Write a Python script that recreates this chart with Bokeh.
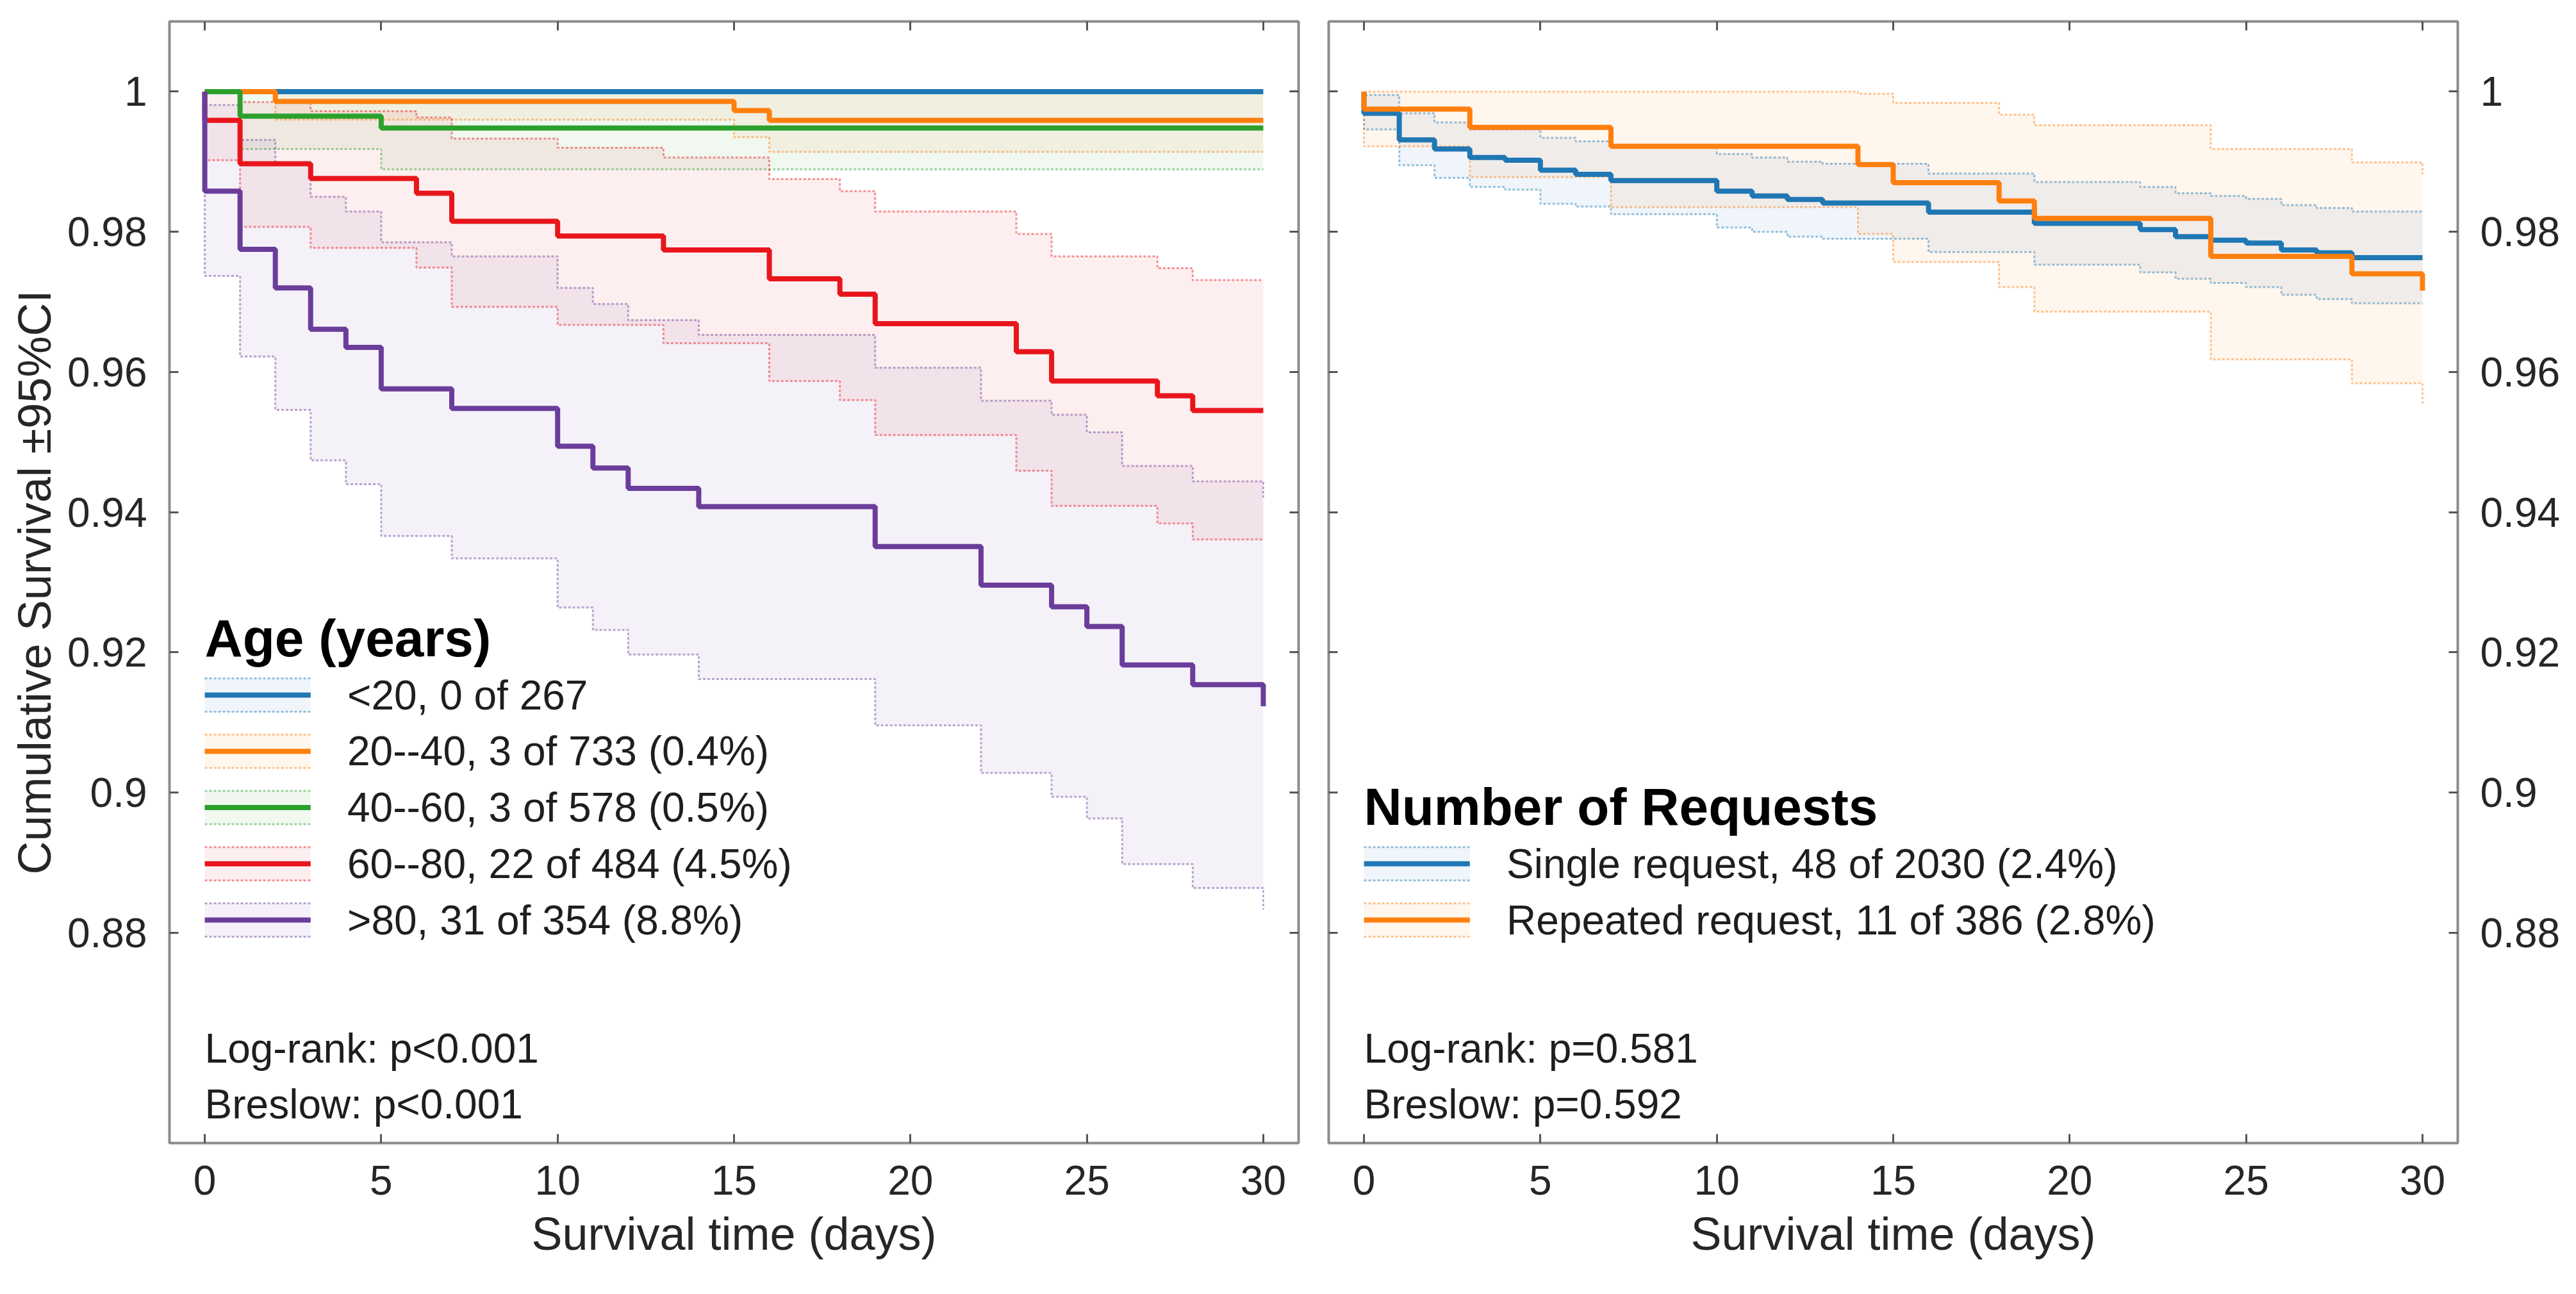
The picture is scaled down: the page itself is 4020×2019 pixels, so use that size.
from bokeh.plotting import figure
from bokeh.layouts import row
from bokeh.models import LinearAxis, FixedTicker, CustomJSTickFormatter, Range1d, Label
from bokeh.embed import file_html
from bokeh.resources import INLINE

# ---------------- data ----------------
X_TICKS = [0, 5, 10, 15, 20, 25, 30]
Y_TICKS = [0.88, 0.90, 0.92, 0.94, 0.96, 0.98, 1.00]

age_title = "Age (years)"
age_labels = ["<20, 0 of 267", "20--40, 3 of 733 (0.4%)", "40--60, 3 of 578 (0.5%)",
              "60--80, 22 of 484 (4.5%)", ">80, 31 of 354 (8.8%)"]
age_stats = ["Log-rank: p<0.001", "Breslow:  p<0.001"]

# <20
lt20_t = [0, 30]
lt20_s = [1.0, 1.0]
lt20_lo = [1.0, 1.0]
lt20_hi = [1.0, 1.0]
# 20--40
a2040_t = [0, 2, 15, 16, 30]
a2040_s = [1.0, 0.9986, 0.9973, 0.9959, 0.9959]
a2040_lo = [1.0, 0.9960, 0.9935, 0.9914, 0.9914]
a2040_hi = [1.0, 1.0, 1.0, 1.0, 1.0]
# 40--60
a4060_t = [0, 1, 5, 30]
a4060_s = [1.0, 0.9965, 0.9948, 0.9948]
a4060_lo = [1.0, 0.9918, 0.9889, 0.9889]
a4060_hi = [1.0, 1.0, 1.0, 1.0]
# 60--80
a6080_t = [0, 0, 1, 3, 6, 7, 10, 13, 16, 18, 19, 23, 24, 27, 28, 30]
a6080_s = [1.0, 0.9959, 0.9897, 0.9876, 0.9855, 0.9815, 0.9794, 0.9774, 0.9733, 0.9711,
           0.9669, 0.9629, 0.9587, 0.9566, 0.9545, 0.9545]
a6080_hi = [1.0, 1.0, 0.9985, 0.9972, 0.9963, 0.9933, 0.9920, 0.9906, 0.9875, 0.9858,
            0.9829, 0.9797, 0.9765, 0.9748, 0.9731, 0.9731]
a6080_lo = [1.0, 0.9902, 0.9807, 0.9777, 0.9749, 0.9693, 0.9667, 0.9641, 0.9587, 0.9560,
            0.9510, 0.9459, 0.9409, 0.9384, 0.9361, 0.9361]
# >80
a80_t = [0, 0, 1, 2, 3, 4, 5, 7, 10, 11, 12, 14, 19, 22, 24, 25, 26, 28, 30]
a80_s = [1.0, 0.9858, 0.9775, 0.9720, 0.9661, 0.9635, 0.9576, 0.9548, 0.9494, 0.9463,
         0.9434, 0.9408, 0.9351, 0.9296, 0.9265, 0.9237, 0.9182, 0.9154, 0.9123]
a80_hi = [1.0, 0.9981, 0.9931, 0.9898, 0.9850, 0.9829, 0.9785, 0.9765, 0.9720, 0.9697,
          0.9674, 0.9653, 0.9606, 0.9559, 0.9539, 0.9514, 0.9466, 0.9444, 0.9421]
a80_lo = [1.0, 0.9737, 0.9622, 0.9546, 0.9474, 0.9440, 0.9366, 0.9334, 0.9264, 0.9232,
          0.9197, 0.9162, 0.9096, 0.9028, 0.8994, 0.8963, 0.8898, 0.8864, 0.8833]

req_title = "Number of Requests"
req_labels = ["Single request, 48 of 2030 (2.4%)", "Repeated request, 11 of 386 (2.8%)"]
req_stats = ["Log-rank: p=0.581", "Breslow:  p=0.592"]

single_t = [0, 0, 1, 2, 3, 4, 5, 6, 7, 10, 11, 12, 13, 16, 19, 22, 23, 24, 25, 26, 27, 28, 30]
single_s = [1.0, 0.9969, 0.9931, 0.9918, 0.9906, 0.9902, 0.9888, 0.9882, 0.9873, 0.9858,
            0.9851, 0.9846, 0.9841, 0.9828, 0.9812, 0.9803, 0.9793, 0.9788, 0.9784, 0.9774,
            0.9770, 0.9763, 0.9763]
single_hi = [1.0, 0.9995, 0.9969, 0.9956, 0.9946, 0.9946, 0.9934, 0.9929, 0.9921, 0.9911,
             0.9906, 0.9900, 0.9897, 0.9883, 0.9871, 0.9864, 0.9855, 0.9851, 0.9847, 0.9838,
             0.9834, 0.9829, 0.9829]
single_lo = [1.0, 0.9946, 0.9895, 0.9877, 0.9864, 0.9860, 0.9840, 0.9836, 0.9825, 0.9806,
             0.9800, 0.9793, 0.9790, 0.9771, 0.9753, 0.9742, 0.9733, 0.9727, 0.9721, 0.9710,
             0.9704, 0.9698, 0.9698]

repeat_t = [0, 0, 3, 7, 14, 15, 18, 19, 24, 28, 30]
repeat_s = [1.0, 0.9975, 0.9949, 0.9922, 0.9896, 0.9870, 0.9844, 0.9819, 0.9765, 0.9740, 0.9716]
repeat_hi = [1.0, 1.0, 1.0, 1.0, 0.9997, 0.9984, 0.9967, 0.9952, 0.9918, 0.9899, 0.9882]
repeat_lo = [1.0, 0.9922, 0.9878, 0.9835, 0.9797, 0.9757, 0.9721, 0.9686, 0.9618, 0.9584, 0.9555]

# ---------------- style ----------------
BLUE, ORANGE, GREEN, RED, PURPLE = "#1f77b4", "#ff7f0e", "#2ca02c", "#e8161c", "#6a3d9a"
FONT = "Liberation Sans"
TXT = "#1e1e1e"
X_MIN, X_MAX = -1.0, 31.0
Y_MIN, Y_MAX = 0.85, 1.01
FW, FH = 1762, 1750

age_groups = [
    (lt20_t, lt20_s, lt20_lo, lt20_hi, BLUE),
    (a2040_t, a2040_s, a2040_lo, a2040_hi, ORANGE),
    (a4060_t, a4060_s, a4060_lo, a4060_hi, GREEN),
    (a6080_t, a6080_s, a6080_lo, a6080_hi, RED),
    (a80_t, a80_s, a80_lo, a80_hi, PURPLE),
]
req_groups = [
    (single_t, single_s, single_lo, single_hi, BLUE),
    (repeat_t, repeat_s, repeat_lo, repeat_hi, ORANGE),
]


def ydat(px_from_top):
    return Y_MAX - px_from_top / FH * (Y_MAX - Y_MIN)


def style_axis(ax, ticks, labels, fmt=None):
    ax.ticker = FixedTicker(ticks=ticks)
    if fmt is not None:
        ax.formatter = fmt
    ax.major_tick_in = 14
    ax.major_tick_out = 0
    ax.minor_tick_in = 0
    ax.minor_tick_out = 0
    ax.major_tick_line_color = "#555555"
    ax.major_tick_line_width = 3
    ax.axis_line_color = None
    ax.major_label_text_font = FONT
    if labels:
        ax.major_label_text_color = "#262626"
        ax.major_label_text_font_size = "64px"
        ax.major_label_standoff = 35
    else:
        # tick marks only: labels are not painted at all
        ax.major_label_text_color = None
        ax.major_label_text_font_size = "1px"
        ax.major_label_standoff = 0


def yfmt():
    return CustomJSTickFormatter(code="return String(parseFloat(tick.toFixed(3)));")


def make_panel(groups, ylabel_side, bl, br):
    p = figure(frame_width=FW, frame_height=FH,
               x_range=Range1d(X_MIN, X_MAX), y_range=Range1d(Y_MIN, Y_MAX),
               output_backend="svg", toolbar_location=None,
               x_axis_location="below", y_axis_location=ylabel_side,
               min_border_left=bl, min_border_right=br,
               min_border_top=33, min_border_bottom=210)
    p.grid.visible = False
    p.outline_line_color = "#8c8c8c"
    p.outline_line_width = 4
    p.background_fill_color = "white"
    p.border_fill_color = "white"

    style_axis(p.xaxis[0], X_TICKS, True)
    p.xaxis[0].axis_label = "Survival time (days)"
    p.xaxis[0].axis_label_text_font = FONT
    p.xaxis[0].axis_label_text_font_size = "72px"
    p.xaxis[0].axis_label_text_font_style = "normal"
    p.xaxis[0].axis_label_text_color = "#262626"
    p.xaxis[0].axis_label_standoff = 18

    style_axis(p.yaxis[0], Y_TICKS, True, yfmt())

    top = LinearAxis()
    style_axis(top, X_TICKS, False)
    p.add_layout(top, "above")
    other = LinearAxis()
    style_axis(other, Y_TICKS, False, yfmt())
    p.add_layout(other, "right" if ylabel_side == "left" else "left")

    for t, s, lo, hi, c in groups:
        p.varea_step(x=t, y1=lo, y2=hi, step_mode="after", fill_color=c, fill_alpha=0.07)
    for t, s, lo, hi, c in groups:
        for b in (lo, hi):
            p.step(x=t, y=b, mode="after", line_color=c, line_alpha=0.45,
                   line_width=3, line_dash="4 3")
    for t, s, lo, hi, c in groups:
        p.step(x=t, y=s, mode="after", line_color=c, line_width=8)
    return p


def add_legend(p, title, labels, colors, first_row, stats):
    p.add_layout(Label(x=0, y=ydat(962 + (first_row * 87.75)), text=title,
                       text_font=FONT, text_font_size="82px", text_font_style="bold",
                       text_color="black", text_baseline="alphabetic", text_align="left"))
    key_len = 3.0
    half = 26 / FH * (Y_MAX - Y_MIN)
    for i, (lab, c) in enumerate(zip(labels, colors)):
        yc = ydat(1051 + (first_row + i) * 87.75)
        p.quad(left=0, right=key_len, bottom=yc - half, top=yc + half,
               fill_color=c, fill_alpha=0.07, line_color=None)
        for yy in (yc - half, yc + half):
            p.segment(x0=0, y0=yy, x1=key_len, y1=yy, line_color=c, line_alpha=0.45,
                      line_width=3, line_dash="4 3")
        p.segment(x0=0, y0=yc, x1=key_len, y1=yc, line_color=c, line_width=8)
        p.add_layout(Label(x=4.04, y=yc, text=lab, text_font=FONT, text_font_size="64px",
                           text_color=TXT, text_baseline="middle", text_align="left"))
    for j, st in enumerate(stats):
        p.add_layout(Label(x=0, y=ydat(1602 + j * 87), text=st, text_font=FONT,
                           text_font_size="64px", text_color=TXT,
                           text_baseline="alphabetic", text_align="left"))


p1 = make_panel(age_groups, "left", 264, 24)
p1.yaxis[0].axis_label = "Cumulative Survival \u00b195%CI"
p1.yaxis[0].axis_label_text_font = FONT
p1.yaxis[0].axis_label_text_font_size = "72px"
p1.yaxis[0].axis_label_text_font_style = "normal"
p1.yaxis[0].axis_label_text_color = "#262626"
p1.yaxis[0].axis_label_standoff = 8
add_legend(p1, age_title, age_labels, [g[4] for g in age_groups], 0, age_stats)

p2 = make_panel(req_groups, "right", 23, 169)
add_legend(p2, req_title, req_labels, [g[4] for g in req_groups], 3, req_stats)

layout = row(p1, p2)
open("out.html", "w").write(file_html(layout, INLINE))
